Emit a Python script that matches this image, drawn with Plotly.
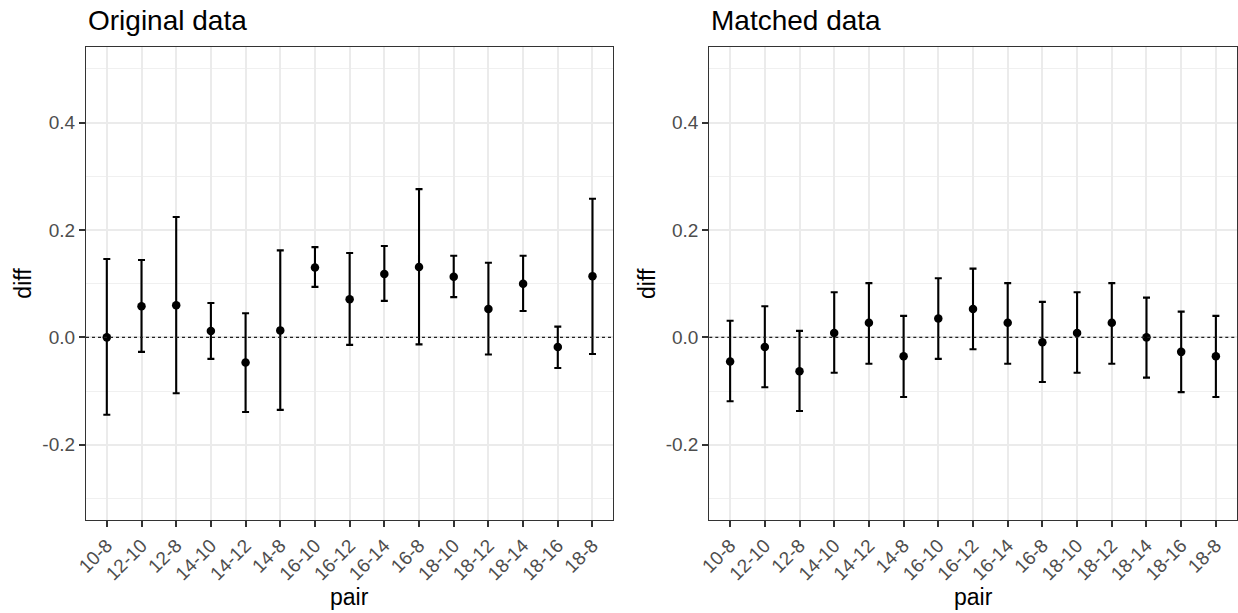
import plotly.graph_objects as go

pairs = ["10-8", "12-10", "12-8", "14-10", "14-12", "14-8", "16-10", "16-12",
         "16-14", "16-8", "18-10", "18-12", "18-14", "18-16", "18-8"]

orig_diff = [0.000, 0.058, 0.060, 0.012, -0.047, 0.013, 0.130, 0.071,
             0.118, 0.131, 0.113, 0.053, 0.100, -0.018, 0.114]
orig_lower = [-0.144, -0.027, -0.104, -0.040, -0.139, -0.135, 0.094, -0.014,
              0.068, -0.013, 0.075, -0.032, 0.049, -0.057, -0.031]
orig_upper = [0.146, 0.144, 0.224, 0.064, 0.045, 0.162, 0.168, 0.157,
              0.170, 0.276, 0.152, 0.139, 0.152, 0.020, 0.258]

match_diff = [-0.045, -0.018, -0.063, 0.008, 0.027, -0.035, 0.035, 0.053,
              0.027, -0.009, 0.008, 0.027, 0.000, -0.027, -0.035]
match_lower = [-0.119, -0.093, -0.137, -0.066, -0.049, -0.111, -0.040, -0.022,
               -0.049, -0.083, -0.066, -0.049, -0.075, -0.102, -0.111]
match_upper = [0.031, 0.058, 0.012, 0.084, 0.101, 0.040, 0.110, 0.128,
               0.101, 0.066, 0.084, 0.101, 0.074, 0.048, 0.040]

y_tickvals = [-0.2, 0.0, 0.2, 0.4]
y_ticktext = ["-0.2", "0.0", "0.2", "0.4"]
y_limits = [-0.3, 0.5]
panel_titles = ["Original data", "Matched data"]

W, H = 1238, 613
FONT = "Liberation Sans, Arial, sans-serif"

fig = go.Figure()

def add_panel(diff, lower, upper, xa, ya):
    plus = [u - d for u, d in zip(upper, diff)]
    minus = [d - l for d, l in zip(diff, lower)]
    fig.add_trace(go.Scatter(
        x=pairs, y=diff, mode="markers", xaxis=xa, yaxis=ya,
        marker=dict(color="black", size=8.5),
        error_y=dict(type="data", symmetric=False, array=plus, arrayminus=minus,
                     color="black", thickness=2.1, width=3.5),
        showlegend=False))

add_panel(orig_diff, orig_lower, orig_upper, "x", "y")
add_panel(match_diff, match_lower, match_upper, "x2", "y2")

px = lambda v: v / W
py = lambda v: (H - v) / H

xdom1 = [px(86), px(613.3)]
xdom2 = [px(709.3), px(1236.7)]
ydom = [py(520), py(47.3)]

span = y_limits[1] - y_limits[0]
yrange = [y_limits[0] - 0.05 * span, y_limits[1] + 0.05 * span]

def xaxis_cfg(dom, anchor):
    return dict(domain=dom, anchor=anchor, type="category",
                categoryorder="array", categoryarray=pairs,
                range=[-0.6, len(pairs) - 0.4],
                showgrid=True, gridcolor="#EBEBEB", gridwidth=1.5,
                showline=True, mirror=True, linecolor="#333333", linewidth=1.2,
                ticks="outside", ticklen=6, tickwidth=1.5, tickcolor="#333333",
                tickangle=-45, tickfont=dict(family=FONT, size=19, color="#4D4D4D"),
                zeroline=False, automargin=False, fixedrange=True)

def yaxis_cfg(anchor):
    return dict(domain=ydom, anchor=anchor, range=yrange,
                tickmode="array", tickvals=y_tickvals, ticktext=y_ticktext,
                showgrid=True, gridcolor="#EBEBEB", gridwidth=1.5,
                minor=dict(tickmode="linear", tick0=-0.3, dtick=0.2,
                           showgrid=True, gridcolor="#F0F0F0", gridwidth=0.9, ticks=""),
                showline=True, mirror=True, linecolor="#333333", linewidth=1.2,
                ticks="outside", ticklen=6, tickwidth=1.5, tickcolor="#333333",
                tickfont=dict(family=FONT, size=19, color="#4D4D4D"),
                zeroline=False, automargin=False, fixedrange=True)

fig.update_layout(
    width=W, height=H,
    margin=dict(l=0, r=0, t=0, b=0),
    paper_bgcolor="white", plot_bgcolor="white",
    xaxis=xaxis_cfg(xdom1, "y"), yaxis=yaxis_cfg("x"),
    xaxis2=xaxis_cfg(xdom2, "y2"), yaxis2=yaxis_cfg("x2"),
    font=dict(family=FONT),
)

for xr, yr in [("x domain", "y"), ("x2 domain", "y2")]:
    fig.add_shape(type="line", xref=xr, yref=yr, x0=0, x1=1, y0=0, y1=0,
                  line=dict(color="#222222", width=1.3, dash="dot"), layer="above")

annotations = []
for dom, t in zip([xdom1, xdom2], panel_titles):
    annotations.append(dict(text=t, x=dom[0], y=py(20), xref="paper", yref="paper",
                            xanchor="left", yanchor="middle", showarrow=False,
                            font=dict(family=FONT, size=28, color="black")))
    annotations.append(dict(text="pair", x=(dom[0] + dom[1]) / 2, y=py(597),
                            xref="paper", yref="paper", xanchor="center", yanchor="middle",
                            showarrow=False, font=dict(family=FONT, size=23, color="black")))
    annotations.append(dict(text="diff", x=dom[0] - px(63), y=(ydom[0] + ydom[1]) / 2,
                            xref="paper", yref="paper", xanchor="center", yanchor="middle",
                            textangle=-90, showarrow=False,
                            font=dict(family=FONT, size=23, color="black")))
fig.update_layout(annotations=annotations)

fig.write_html("out.html", config={"displayModeBar": False},
               post_script="document.body.style.margin='0';document.body.style.overflow='hidden';")
